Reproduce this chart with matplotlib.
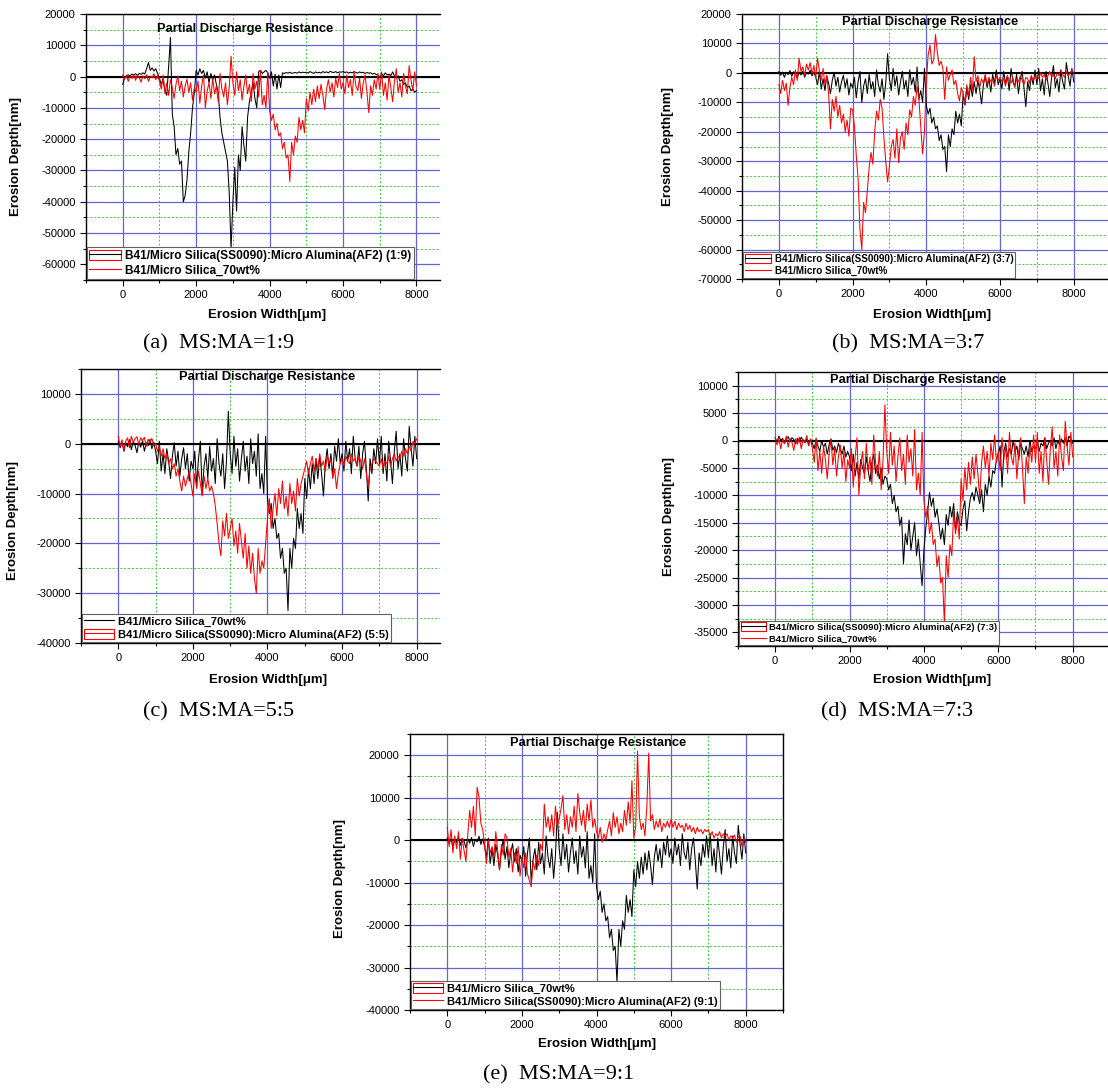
import numpy as np
import matplotlib
matplotlib.use('Agg')
import matplotlib.pyplot as plt
from matplotlib.ticker import MultipleLocator
from matplotlib.patches import Rectangle
from matplotlib.lines import Line2D
from matplotlib.legend_handler import HandlerTuple

# posicoes de medida (um ponto a cada 50 um)
width_um = np.arange(0, 8001, 50)

# B41/Micro Silica_70wt% (mesma amostra em todos os graficos)
ms70 = [
    500, -800, 300, -1500, 200, -600, 800, -1200, 400, -300, -1800, 300, -700, 600, -1500, 200, -400, 900, -1000, 300,
    -1500, -4000, 500, -5500, -2000, -6000, -1000, -3500, -7000, -2500, 200, -4500, -1500, -6500, -3000, -800, -5000, -2000, -7500, -3500,
    -5000, -1500, -8500, -3000, 500, -10000, -4500, -2000, -7000, -500, -5500, -3000, -8000, 1000, -4000, -6500, -2000, -9000, -3500, 6500,
    -2000, -6000, 1500, -4500, -1000, -7500, -3000, 500, -5500, -2500, -8000, 1000, -4000, -1500, -6500, 2000, -9000, -6000, -10000, 1500,
    -11000, -14000, -12000, -17000, -15000, -19000, -18000, -23000, -21000, -26000, -25000, -33500, -21000, -25000, -19000, -21000, -13000, -17000, -14000, -18000,
    -7000, -11000, -5000, -9000, -4000, -8000, -3000, -7000, -2500, -6000, -10500, -4000, -1000, -5000, -2000, -6500, -500, -3500, 1000, -4000,
    -2000, -5500, 500, -3500, -1000, -6000, 1500, -3000, -4500, -500, -7000, -2000, 500, -5000, -11500, -3000, -6000, -1000, -4000, 1000,
    -4000, 1500, -6000, -2000, -7500, 500, -3500, -8000, -1500, 2500, -5000, -2000, -6500, 1000, -3000, -5500, 3500, -1000, -4500, 1500,
    -3000]

# MS:MA = 1:9
r19 = [
    -2500, -500, 300, 600, 200, 800, 500, 900, 400, 1000, 700, 1200, 800, 2500, 4500, 2000, 2800, 1800, 2500, 1000,
    -500, -2500, -1000, -4500, -6000, 3000, 12500, -12000, -16000, -25000, -23000, -28000, -27000, -40000, -38000, -33000, -24000, -18000, -10000, -5000,
    2000, 500, 2500, 1000, 2000, -500, 1500, -2000, 1000, -1000, 500, -2500, -5000, -13000, -18000, -21000, -24000, -27000, -37000, -55000,
    -40000, -29000, -43000, -25000, -30000, -16000, -22000, -27000, -13000, -8000, -5000, -2000, -7000, -10000, 1500, 2000, 1000, 1500, 2000, 1200,
    -500, 1500, -3000, 800, -4000, 500, -3500, 1200, 1000, 1300, 1100, 1400, 1000, 1200, 1300, 1100, 1500, 1200, 1400, 1300,
    1400, 1100, 1600, 1300, 1000, 1500, 1200, 1400, 1100, 1600, 1300, 1500, 1200, 1700, 1400, 1300, 1600, 1200, 1500, 1400,
    1600, 1300, 1500, 1100, 1400, 1200, 1600, 1300, 1100, 1500, 1200, 1400, 1000, 1300, 1100, 1200, 800, 1000, 700, 500,
    -500, 1000, 200, 1200, 500, 800, 300, 1500, 200, -500, 300, -1500, -1000, -2500, -2000, -3500, -3000, -4500, -4000, -5000,
    -4500]

# MS:MA = 3:7
r37 = [
    -4000, -7000, -2500, -6000, -3500, -11000, -5000, -1500, -4000, 1000, -2500, 5000, 500, 2000, -1000, 3000, 1000, 3500, -500, 2500,
    -1500, 5000, 500, -2500, 1500, -4000, -1000, -7000, -19000, -9000, -13000, -8000, -15000, -11000, -17000, -14000, -20000, -16000, -21500, -12000,
    -12500, -18000, -28000, -36000, -53000, -60000, -44000, -47500, -40000, -32000, -27000, -31000, -20000, -13000, -16000, -9000, -12000, -22000, -30000, -37000,
    -31700, -25000, -22600, -29000, -19000, -30500, -22000, -20000, -26000, -17000, -21000, -12500, -15000, -8000, -11000, -4500, -9000, -18000, -27500, -20000,
    -3000, 6000, 9500, 3000, 4500, 13000, 7000, 2500, 4000, 1500, -9000, 2000, -2500, -500, 1000, -4000, -2500, -7000, -9500, -5000,
    -7000, -10500, -4000, -8000, -1500, -6000, 5500, -3000, -1000, -5000, -2000, -3500, -500, -4000, -1500, -3000, -2000, -4500, -1000, -2500,
    -1500, -3000, -2000, -4500, -1000, -2500, -3500, -1500, -5000, -2000, -3000, -1000, -2500, -4000, -1500, -2000, -3500, -1000, -2500, -1500,
    -1000, -2000, 0, -1500, -500, -2500, -1000, 500, -1500, -500, -2000, 0, -1000, 1000, -500, -1500, 500, -1000, 0, 1000,
    0]

# MS:MA = 5:5
r55 = [
    1500, -500, 800, -1500, 500, 1200, -800, 1500, 300, 1000, 1400, -200, 1200, 600, 1300, -500, 900, 200, 1100, -300,
    0, -1500, -500, -2500, -1000, -3000, -2000, -4000, -3000, -5000, -4000, -6500, -5000, -7500, -9500, -6500, -8500, -7000, -5500, -8000,
    -10500, -6000, -9000, -5500, -8000, -10500, -6500, -9000, -7000, -9500, -8500, -10000, -12500, -16000, -20000, -22500, -15500, -18500, -14000, -19000,
    -17000, -15000, -20500, -17500, -22000, -16000, -19500, -23000, -18000, -25000, -20500, -26000, -22000, -27000, -30000, -21000, -26000, -23500, -25000, -20000,
    -15000, -11000, -17000, -13000, -10000, -14500, -9000, -12000, -7500, -13000, -10500, -14500, -8000, -12000, -9500, -13500, -7000, -10500, -8000, -6500,
    -5000, -3500, -6000, -4000, -2500, -5500, -3000, -5000, -2000, -4500, -3500, -5500, -2500, -4000, -3000, -7000, -5000, -9000, -6000, -4000,
    -3000, -4500, -2500, -3500, -4000, -2000, -3500, -3000, -4500, -2500, -3500, -5000, -3000, -6000, -8500, -5000, -4000, -3000, -3500, -4000,
    -4500, -3000, -5000, -3500, -4000, -2500, -4500, -3000, -2000, -3500, -2500, -3000, -1500, -2500, -1000, -2000, -500, -1500, 500, 0,
    1000]

# MS:MA = 7:3
r73 = [
    500, -300, 800, 0, 400, -500, 300, 700, -200, 500, 200, -600, 400, -200, 600, 0, -400, 300, -800, 200,
    -500, -1500, 200, -1000, -2000, 0, -1200, -500, -2500, -800, 300, -1800, -1000, -2200, -500, -1500, -2500, -1000, -3000, -2000,
    -3000, -5500, -2500, -6500, -4000, -7000, -3500, -5000, -6000, -3000, -5500, -7500, -4000, -2500, -6000, -4500, -7000, -5000, -8000, -6500,
    -7000, -9000, -8000, -11500, -10000, -13000, -12000, -15500, -14000, -22500, -17000, -19000, -14500, -20000, -17500, -15000, -21000, -18000, -22500, -26500,
    -20000, -16000, -13000, -9500, -12000, -10500, -14000, -12500, -15000, -18000, -16000, -19000, -13500, -15500, -12000, -14000, -11500, -16500, -13000, -15000,
    -15500, -12500, -11000, -16500, -13000, -10500, -9500, -11000, -8500, -10000, -11500, -9000, -13000, -8000, -10000, -6500, -8500, -5500, -6000, -3500,
    -2500, -1000, -8500, -2000, -500, -3000, -1500, -2500, 0, -2000, -1000, -3500, -500, -1500, -2500, -1000, -3000, 0, -2000, -1000,
    -1500, 0, -2000, -500, -1000, 500, -1500, -500, 0, -1000, 500, -1500, 0, -800, 300, -500, 500, -1000, 800, 300,
    -500]

# MS:MA = 9:1
r91 = [
    3000, -1500, 2500, -3000, 1000, -2000, 2000, -4500, 500, -2500, -5000, 1500, 7000, 3000, 8000, 1000, 12500, 10000, 4000, 2500,
    -1000, -5500, 0, -3000, -1500, -4000, 2000, -2500, -7000, -1000, -3500, 1500, 500, -4000, -2000, -7500, -3000, -5500, -1500, -8500,
    -4000, -6500, -3000, -8000, -9500, -11000, -5000, -7000, -3500, -6000, -1000, -2500, 8500, 3000, 5500, 2000, 6000, 1000, 8000, 3500,
    5000, 7500, 10500, 2500, 6000, 1500, 5500, 3000, 8000, 2000, 11000, 6500, 3500, 7000, 2000, 8500, 4500, 9500, 3000, 5000,
    2000, 500, 3000, -500, 1500, 0, 2500, 4500, 1000, 6500, 3000, 5500, 1500, 4000, 2000, 7000, 3500, 9000, 4000, 14000,
    500, 3000, 21000, 5500, 2500, 4000, 1000, 8000, 20500, 4500, 6000, 2500, 4500, 3000, 5000, 2000, 4000, 3000, 4500, 3000,
    5000, 3000, 4500, 2500, 4000, 3000, 3500, 2000, 4000, 2500, 3500, 2000, 3000, 1500, 3000, 2000, 2500, 1500, 2500, 2000,
    2500, 1000, 2000, 500, 1500, 1000, 2000, 500, 1500, 1000, 1500, 0, 1000, 500, 1200, -500, 800, 1000, -1500, 500,
    -500]

lab_70 = 'B41/Micro Silica_70wt%'
lab_mix = 'B41/Micro Silica(SS0090):Micro Alumina(AF2) ({})'

plt.rcParams['font.family'] = ['Liberation Sans', 'DejaVu Sans']
plt.rcParams['axes.unicode_minus'] = False

W, H = 1108, 1089
fig = plt.figure(figsize=(W / 100, H / 100), dpi=100)

# caixa de cada grafico em pixels (esq, topo, dir, base)
paineis = [
    dict(box=(86, 14, 440, 280), xlim=(-1000, 8640), ylim=(-65000, 20000), ymaj=10000,
         preto=r19, verm=ms70, labels=[lab_mix.format('1:9'), lab_70], caixa=0, lfs=8.6,
         tit=(0.45, 0.944), ylab=(16, 157), xlab=(267, 315), cap='(a)  MS:MA=1:9', capxy=(219, 344), dir=False),
    dict(box=(742, 14, 1108, 279), xlim=(-1000, 8930), ylim=(-70000, 20000), ymaj=10000,
         preto=ms70, verm=r37, labels=[lab_mix.format('3:7'), lab_70], caixa=0, lfs=7.1,
         tit=(0.514, 0.97), ylab=(668, 147), xlab=(932, 315), cap='(b)  MS:MA=3:7', capxy=(908, 344), dir=False),
    dict(box=(81, 369, 440, 643), xlim=(-1000, 8625), ylim=(-40000, 15000), ymaj=10000,
         preto=ms70, verm=r55, labels=[lab_70, lab_mix.format('5:5')], caixa=1, lfs=8.1,
         tit=(0.518, 0.971), ylab=(13, 521), xlab=(268, 680), cap='(c)  MS:MA=5:5', capxy=(219, 712), dir=False),
    dict(box=(738, 372, 1108, 646), xlim=(-1000, 8950), ylim=(-37500, 12500), ymaj=5000,
         preto=r73, verm=ms70, labels=[lab_mix.format('7:3'), lab_70], caixa=0, lfs=6.8,
         tit=(0.486, 0.971), ylab=(669, 517), xlab=(932, 680), cap='(d)  MS:MA=7:3', capxy=(897, 712), dir=False),
    dict(box=(410, 734, 783, 1010), xlim=(-1000, 9000), ylim=(-40000, 25000), ymaj=10000,
         preto=ms70, verm=r91, labels=[lab_70, lab_mix.format('9:1')], caixa=0, lfs=8.1,
         tit=(0.504, 0.967), ylab=(340, 878), xlab=(597, 1044), cap='(e)  MS:MA=9:1', capxy=(559, 1075), dir=True),
]

azul = '#6464d8'
verde = '#3ccc3c'

for p in paineis:
    l, t, r, b = p['box']
    ax = fig.add_axes([l / W, 1 - b / H, (r - l) / W, (b - t) / H])
    ax.set_xlim(*p['xlim'])
    ax.set_ylim(*p['ylim'])
    ax.xaxis.set_major_locator(MultipleLocator(2000))
    ax.xaxis.set_minor_locator(MultipleLocator(1000))
    ax.yaxis.set_major_locator(MultipleLocator(p['ymaj']))
    ax.yaxis.set_minor_locator(MultipleLocator(p['ymaj'] / 2))
    ax.grid(which='major', color=azul, lw=0.9)
    ax.grid(which='minor', color=verde, lw=0.7, ls=(0, (2, 2)))
    ax.set_axisbelow(True)
    ax.tick_params(which='both', direction='out', labelsize=8, width=0.8, colors='black')
    ax.tick_params(which='major', length=4)
    ax.tick_params(which='minor', length=2)
    for s in ax.spines.values():
        s.set_linewidth(1.0)
    ax.spines['right'].set_visible(p['dir'])

    ax.axhline(0, color='black', lw=1.5, zorder=1.5)
    ax.plot(width_um, p['preto'], color='black', lw=0.75)
    ax.plot(width_um, p['verm'], color='red', lw=0.75)

    ax.text(p['tit'][0], p['tit'][1], 'Partial Discharge Resistance', transform=ax.transAxes,
            ha='center', va='center', fontsize=9.3, fontweight='bold')

    # legenda no estilo do Origin (caixa vermelha com a linha dentro)
    hp = Line2D([], [], color='black', lw=0.8)
    hv = Line2D([], [], color='red', lw=0.8)
    ret = Rectangle((0, 0), 1, 1, facecolor='none', edgecolor='red', lw=0.8)
    if p['caixa'] == 0:
        handles = [(ret, hp), hv]
    else:
        handles = [hp, (ret, hv)]
    leg = ax.legend(handles, p['labels'], loc='lower left', bbox_to_anchor=(0.003, 0.003),
                    borderaxespad=0, handler_map={tuple: HandlerTuple(ndivide=1)},
                    prop={'weight': 'bold', 'size': p['lfs']}, handlelength=2.6, handleheight=1.0,
                    handletextpad=0.4, labelspacing=0.2, borderpad=0.2, fancybox=False,
                    edgecolor='#606060', framealpha=1)
    leg.get_frame().set_linewidth(0.8)

    fig.text(p['ylab'][0] / W, 1 - p['ylab'][1] / H, 'Erosion Depth[nm]', rotation=90,
             ha='center', va='center', fontsize=9.5, fontweight='bold')
    fig.text(p['xlab'][0] / W, 1 - p['xlab'][1] / H, 'Erosion Width[μm]',
             ha='center', va='center', fontsize=9.5, fontweight='bold')
    fig.text(p['capxy'][0] / W, 1 - p['capxy'][1] / H, p['cap'], ha='center', va='center',
             fontsize=16, family=['Liberation Serif', 'DejaVu Serif'])

fig.savefig('out.png', dpi=100)
